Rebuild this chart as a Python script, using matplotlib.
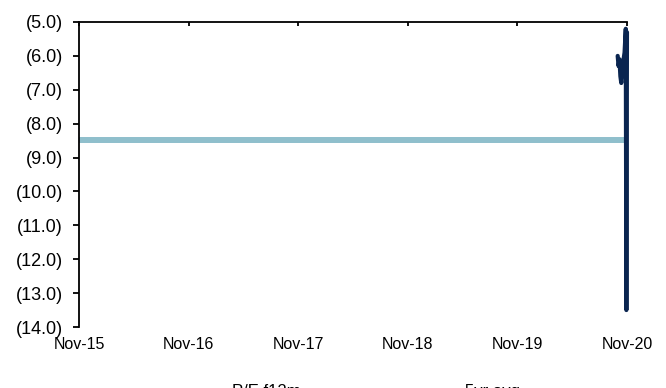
import numpy as np
import pandas as pd
import matplotlib
matplotlib.use("Agg")
import matplotlib.pyplot as plt
import matplotlib.dates as mdates
from matplotlib.ticker import FuncFormatter

plt.rcParams['font.family'] = ['Liberation Sans', 'DejaVu Sans']

# P/E f12m, only quoted for the last weeks of the window
pe_dates = ["2020-10-01", "2020-10-04", "2020-10-07", "2020-10-10", "2020-10-13",
            "2020-10-16", "2020-10-19", "2020-10-24", "2020-10-28", "2020-10-30",
            "2020-11-01"]
pe_values = [-6.0, -6.3, -6.1, -6.6, -6.8, -6.5, -6.2, -5.9, -5.2, -13.5, -5.3]

avg_value = -8.47
avg_dates = ["2015-11-01", "2020-11-01"]

xticks = ["2015-11-01", "2016-11-01", "2017-11-01", "2018-11-01", "2019-11-01", "2020-11-01"]
yticks = np.arange(-14, -4, 1)

fig = plt.figure(figsize=(6.66, 3.88), dpi=100)
ax = fig.add_axes([0.1186, 0.1572, 0.8228, 0.7861])

ax.plot(pd.to_datetime(avg_dates), [avg_value, avg_value], color="#8FBFCC", lw=4.3,
        solid_capstyle="butt", label="5yr avg", zorder=2)
ax.plot(pd.to_datetime(pe_dates), pe_values, color="#0A2550", lw=3.0,
        solid_joinstyle="round", solid_capstyle="round", label="P/E f12m",
        clip_on=False, zorder=3)

ax.set_xlim(pd.Timestamp(xticks[0]), pd.Timestamp(xticks[-1]))
ax.set_ylim(-14, -5)
ax.set_xticks(pd.to_datetime(xticks))
ax.xaxis.set_major_formatter(mdates.DateFormatter("%b-%y"))
ax.set_yticks(yticks)
ax.yaxis.set_major_formatter(FuncFormatter(lambda v, p: "({:.1f})".format(abs(v))))

for s in ["right", "bottom"]:
    ax.spines[s].set_visible(False)
for s in ["left", "top"]:
    ax.spines[s].set_linewidth(1.3)
    ax.spines[s].set_color("black")

ax.tick_params(axis="x", top=True, bottom=False, labeltop=False, labelbottom=True,
               direction="in", length=3, width=1.3, labelsize=11.5, pad=7)
ax.tick_params(axis="y", direction="out", length=4.5, width=1.3, labelsize=13, pad=7)

# legend sits below the figure edge, only its top shows
handles, labels = ax.get_legend_handles_labels()
fig.legend(handles[::-1], labels[::-1], loc="upper center", bbox_to_anchor=(0.523, 0.048),
           ncol=2, frameon=False, fontsize=12, columnspacing=6.6, handlelength=2.5)

fig.savefig("out.png", dpi=100)
